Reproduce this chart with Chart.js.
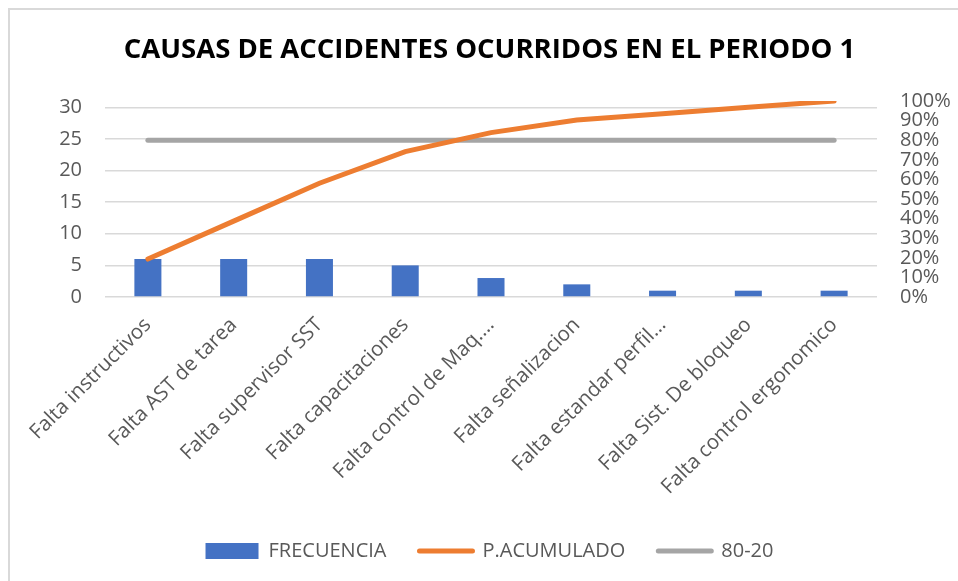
<!DOCTYPE html>
<html><head><meta charset="utf-8">
<script src="https://cdn.jsdelivr.net/npm/chart.js@4/dist/chart.umd.min.js"></script>
<style>
html,body{margin:0;padding:0;background:#fff;overflow:hidden;width:958px;height:581px;}
#frame{position:absolute;left:8px;top:8px;width:990px;height:600px;border:2px solid #d9d9d9;box-sizing:border-box;}
#wrap{position:absolute;left:10px;top:10px;width:959px;height:590px;}
</style></head><body>
<div id="frame"></div>
<div id="wrap"><canvas id="c" width="959" height="590" style="width:959px;height:590px"></canvas></div>
<script>
const categories = ["Falta instructivos","Falta AST de tarea","Falta supervisor SST","Falta capacitaciones","Falta control de Maq.…","Falta señalizacion","Falta estandar perfil…","Falta Sist. De bloqueo","Falta control ergonomico"];
const frecuencia = [6,6,6,5,3,2,1,1,1];
const acumulado = [19.35,38.71,58.06,74.19,83.87,90.32,93.55,96.77,100];
const regla8020 = [80,80,80,80,80,80,80,80,80];
const leftTicks = [0,5,10,15,20,25,30];
const rightTicks = [0,10,20,30,40,50,60,70,80,90,100];

const FONT = 'Open Sans';
const TXT = '#595959';

new Chart(document.getElementById('c'), {
  data: {
    labels: categories,
    datasets: [
      {type:'bar', label:'FRECUENCIA', data:frecuencia, backgroundColor:'#4472C4', barPercentage:0.315, categoryPercentage:1, yAxisID:'y', order:2},
      {type:'line', label:'P.ACUMULADO', data:acumulado, borderColor:'#ED7D31', backgroundColor:'#ED7D31', borderWidth:5, pointRadius:0, borderCapStyle:'round', tension:0, yAxisID:'y1', order:0},
      {type:'line', label:'80-20', data:regla8020, borderColor:'#A5A5A5', backgroundColor:'#A5A5A5', borderWidth:5, pointRadius:0, borderCapStyle:'round', tension:0, yAxisID:'y1', order:1}
    ]
  },
  options: {
    responsive:false, animation:false,
    layout:{padding:{left:0,right:0,top:0,bottom:29}},
    plugins:{
      tooltip:{enabled:false},
      title:{display:true, text:'CAUSAS DE ACCIDENTES OCURRIDOS EN EL PERIODO 1', color:'#000', font:{family:FONT, size:27.5, weight:'bold'}, padding:{top:24,bottom:34}},
      legend:{position:'bottom', labels:{
        usePointStyle:true, pointStyleWidth:53, boxHeight:16, padding:33, color:TXT, font:{family:FONT,size:20},
        sort:(a,b)=>a.datasetIndex-b.datasetIndex,
        generateLabels(chart){
          const items = Chart.defaults.plugins.legend.labels.generateLabels(chart);
          items.forEach(it=>{
            const ds = chart.data.datasets[it.datasetIndex];
            if(ds.type==='bar'){ it.pointStyle='rect'; it.lineWidth=0; it.fillStyle=ds.backgroundColor; it.strokeStyle=ds.backgroundColor; }
            else { it.pointStyle='line'; it.lineWidth=5; it.strokeStyle=ds.borderColor; it.fillStyle=ds.borderColor; it.lineCap='round'; }
          });
          return items;
        }
      }}
    },
    scales:{
      x:{grid:{display:false}, border:{display:false},
         ticks:{autoSkip:false, maxRotation:45, minRotation:45, padding:8, color:TXT, font:{family:FONT,size:20.5}},
         afterFit(s){ s.height = 211; }},
      y:{position:'left', min:0, max:31,
         afterBuildTicks(s){ s.ticks = leftTicks.map(v=>({value:v})); },
         grid:{color:'#D9D9D9', lineWidth:1.5, drawTicks:false}, border:{display:false},
         ticks:{autoSkip:false, padding:23, color:TXT, font:{family:FONT,size:20}},
         afterFit(s){ s.width = 95; }},
      y1:{position:'right', min:0, max:100,
         afterBuildTicks(s){ s.ticks = rightTicks.map(v=>({value:v})); },
         grid:{display:false, drawTicks:false}, border:{display:false},
         ticks:{autoSkip:false, padding:23, color:TXT, font:{family:FONT,size:20}, callback:v=>v+'%'},
         afterFit(s){ s.width = 92; }}
    }
  }
});
</script>
</body></html>
